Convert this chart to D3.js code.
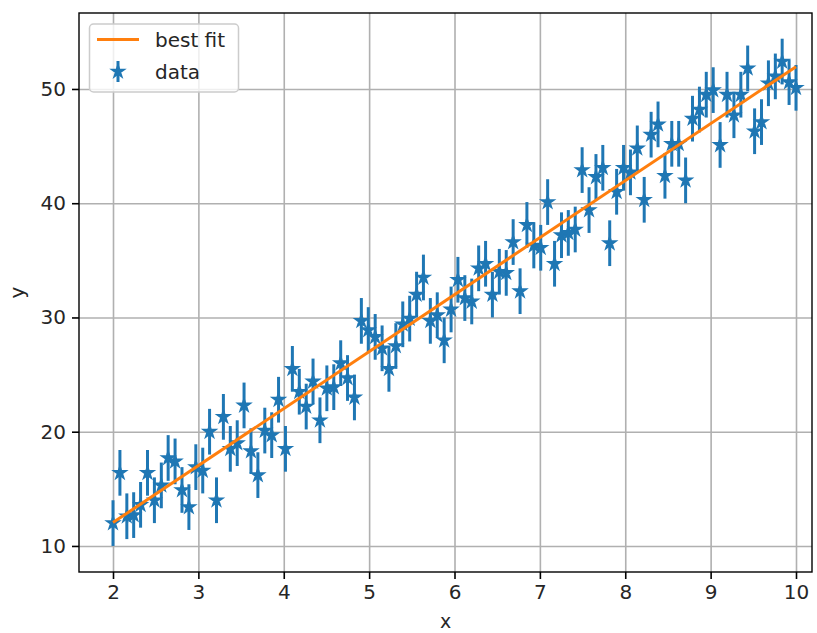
<!DOCTYPE html>
<html>
<head>
<meta charset="utf-8">
<script src="https://cdn.jsdelivr.net/npm/d3@7"></script>
<style>
  body { margin: 0; background: #fff; }
  svg { display: block; font-family: "DejaVu Sans", sans-serif; }
</style>
</head>
<body>
<svg id="chart"></svg>
<script>
// sample positions along x
const xValues = [
  2.000, 2.081, 2.162, 2.242, 2.323, 2.404, 2.485, 2.566, 2.646, 2.727,
  2.808, 2.889, 2.970, 3.051, 3.131, 3.212, 3.293, 3.374, 3.455, 3.535,
  3.616, 3.697, 3.778, 3.859, 3.939, 4.020, 4.101, 4.182, 4.263, 4.343,
  4.424, 4.505, 4.586, 4.667, 4.747, 4.828, 4.909, 4.990, 5.071, 5.152,
  5.232, 5.313, 5.394, 5.475, 5.556, 5.636, 5.717, 5.798, 5.879, 5.960,
  6.040, 6.121, 6.202, 6.283, 6.364, 6.444, 6.525, 6.606, 6.687, 6.768,
  6.848, 6.929, 7.010, 7.091, 7.172, 7.253, 7.333, 7.414, 7.495, 7.576,
  7.657, 7.737, 7.818, 7.899, 7.980, 8.061, 8.141, 8.222, 8.303, 8.384,
  8.465, 8.545, 8.626, 8.707, 8.788, 8.869, 8.949, 9.030, 9.111, 9.192,
  9.273, 9.354, 9.434, 9.515, 9.596, 9.677, 9.758, 9.838, 9.919, 10.000
];

const yValues = [
  12.0, 16.4, 12.6, 12.7, 13.6, 16.4, 14.0, 15.3, 17.7, 17.4,
  14.9, 13.4, 16.9, 16.6, 20.0, 14.0, 21.3, 18.5, 19.0, 22.3,
  18.3, 16.2, 20.1, 19.7, 22.8, 18.5, 25.5, 23.5, 22.2, 24.4,
  21.0, 23.8, 23.9, 26.0, 24.7, 23.0, 29.7, 28.9, 28.3, 27.3,
  25.5, 27.5, 29.4, 29.9, 32.0, 33.5, 29.7, 30.2, 28.0, 30.7,
  33.3, 31.7, 31.4, 34.3, 34.7, 32.0, 34.0, 33.9, 36.6, 32.3,
  38.1, 36.3, 36.1, 40.1, 34.7, 37.2, 37.4, 37.7, 42.9, 39.4,
  42.3, 43.1, 36.5, 41.0, 43.1, 42.7, 44.8, 40.3, 46.0, 46.9,
  42.4, 45.2, 45.2, 42.0, 47.4, 48.2, 49.5, 49.9, 45.1, 49.5,
  47.7, 49.5, 51.8, 46.3, 47.1, 50.5, 51.1, 52.4, 50.6, 50.1
];
const yErr = 2;

// fitted line endpoints
const fitX = [2, 10];
const fitY = [12.05, 51.95];

const xTicks = [2, 3, 4, 5, 6, 7, 8, 9, 10];
const yTicks = [10, 20, 30, 40, 50];

const xLim = [1.6017, 10.1874];
const yLim = [7.72, 56.65];

function drawChart() {
    const width = 817;
    const height = 633;
    const margin = { top: 13, right: 5, bottom: 61, left: 79 };
    const w = width - margin.left - margin.right;
    const h = height - margin.top - margin.bottom;
    const blue = '#1f77b4';
    const orange = '#ff7f0e';

    const svg = d3.select('#chart')
        .attr('width', width)
        .attr('height', height);

    const g = svg.append('g')
        .attr('transform', `translate(${margin.left},${margin.top})`);

    const x = d3.scaleLinear().domain(xLim).range([0, w]);
    const y = d3.scaleLinear().domain(yLim).range([h, 0]);

    // grid
    g.append('g')
        .attr('transform', `translate(0,${h})`)
        .call(d3.axisBottom(x).tickValues(xTicks).tickSize(-h).tickFormat(''))
        .call(s => s.select('.domain').remove())
        .selectAll('line')
        .attr('stroke', '#b0b0b0')
        .attr('stroke-width', 1.6);

    g.append('g')
        .call(d3.axisLeft(y).tickValues(yTicks).tickSize(-w).tickFormat(''))
        .call(s => s.select('.domain').remove())
        .selectAll('line')
        .attr('stroke', '#b0b0b0')
        .attr('stroke-width', 1.6);

    // error bars
    const points = xValues.map((xv, i) => ({ x: xv, y: yValues[i] }));

    g.append('g')
        .selectAll('line')
        .data(points)
        .enter().append('line')
        .attr('x1', d => x(d.x))
        .attr('x2', d => x(d.x))
        .attr('y1', d => y(d.y - yErr))
        .attr('y2', d => y(d.y + yErr))
        .attr('stroke', blue)
        .attr('stroke-width', 3);

    const star = d3.symbol().type(d3.symbolStar).size(40);

    g.append('g')
        .selectAll('path')
        .data(points)
        .enter().append('path')
        .attr('d', star)
        .attr('transform', d => `translate(${x(d.x)},${y(d.y)})`)
        .attr('fill', blue)
        .attr('stroke', blue)
        .attr('stroke-width', 2)
        .attr('stroke-linejoin', 'miter');

    // best fit line
    const line = d3.line()
        .x((d, i) => x(fitX[i]))
        .y(d => y(d));

    g.append('path')
        .datum(fitY)
        .attr('d', line)
        .attr('fill', 'none')
        .attr('stroke', orange)
        .attr('stroke-width', 3);

    // axes
    const xAxis = g.append('g')
        .attr('transform', `translate(0,${h})`)
        .call(d3.axisBottom(x).tickValues(xTicks).tickSize(7).tickPadding(6).tickFormat(d3.format('d')));

    const yAxis = g.append('g')
        .call(d3.axisLeft(y).tickValues(yTicks).tickSize(7).tickPadding(6).tickFormat(d3.format('d')));

    [xAxis, yAxis].forEach(a => {
        a.select('.domain').remove();
        a.selectAll('line').attr('stroke', '#000').attr('stroke-width', 1.6);
        a.selectAll('text')
            .attr('fill', '#262626')
            .style('font-size', '20px')
            .style('font-family', '"DejaVu Sans", sans-serif');
    });

    // frame
    g.append('rect')
        .attr('width', w)
        .attr('height', h)
        .attr('fill', 'none')
        .attr('stroke', '#000')
        .attr('stroke-width', 1.4);

    // axis labels
    svg.append('text')
        .attr('x', margin.left + w / 2)
        .attr('y', 628)
        .attr('text-anchor', 'middle')
        .style('font-size', '19px')
        .attr('fill', '#262626')
        .text('x');

    svg.append('text')
        .attr('transform', `translate(24,${margin.top + h / 2}) rotate(-90)`)
        .attr('text-anchor', 'middle')
        .style('font-size', '20px')
        .attr('fill', '#262626')
        .text('y');

    // legend
    const legend = svg.append('g');

    legend.append('rect')
        .attr('x', 89.5)
        .attr('y', 24)
        .attr('width', 149)
        .attr('height', 68)
        .attr('rx', 4)
        .attr('fill', '#fff')
        .attr('fill-opacity', 0.8)
        .attr('stroke', '#cccccc')
        .attr('stroke-width', 1.5);

    legend.append('line')
        .attr('x1', 97).attr('x2', 139)
        .attr('y1', 39.5).attr('y2', 39.5)
        .attr('stroke', orange)
        .attr('stroke-width', 3);

    legend.append('text')
        .attr('x', 155)
        .attr('y', 47)
        .style('font-size', '20px')
        .attr('fill', '#262626')
        .text('best fit');

    legend.append('line')
        .attr('x1', 118).attr('x2', 118)
        .attr('y1', 61).attr('y2', 82)
        .attr('stroke', blue)
        .attr('stroke-width', 3);

    legend.append('path')
        .attr('d', star)
        .attr('transform', 'translate(118,71.5)')
        .attr('fill', blue)
        .attr('stroke', blue)
        .attr('stroke-width', 2);

    legend.append('text')
        .attr('x', 155)
        .attr('y', 79)
        .style('font-size', '20px')
        .attr('fill', '#262626')
        .text('data');
}

drawChart();
</script>
</body>
</html>
